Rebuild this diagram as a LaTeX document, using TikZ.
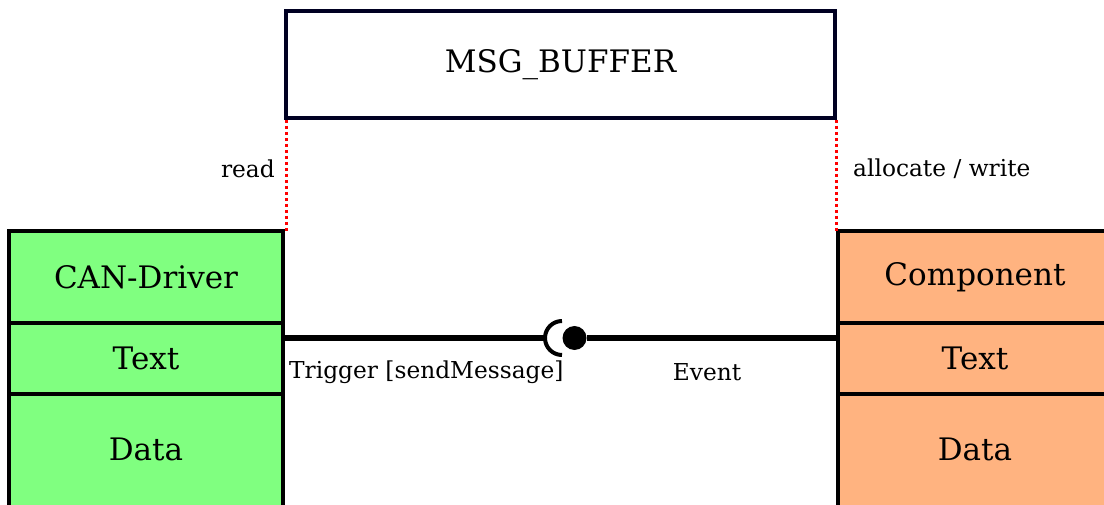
\documentclass[tikz,border=0pt]{standalone}
\usepackage{fontspec}
\setmainfont{DejaVu Serif}
\definecolor{drvgreen}{HTML}{80FF80}
\definecolor{comporange}{HTML}{FFB380}
\definecolor{bufnavy}{HTML}{000022}
\begin{document}
\begin{tikzpicture}[x=1pt,y=-1pt,
  part/.style={draw=black, line width=3.2pt, outer sep=0pt, minimum width=274pt, inner sep=0pt,
    font=\fontsize{31}{37}\selectfont},
  bigtext/.style={inner sep=0pt, font=\fontsize{31}{37}\selectfont},
  lbl/.style={inner sep=0pt, font=\fontsize{23.3}{28}\selectfont},
  usage/.style={draw=red, line width=3.4pt, dash pattern=on 3.5pt off 2.5pt},
  wire/.style={line width=5.5pt}]
\useasboundingbox (0,0) rectangle (1104,505);
\clip (0,0) rectangle (1104,505);

% message buffer
\node[draw=bufnavy, line width=3.6pt, outer sep=0pt, minimum width=549pt, minimum height=107pt,
  inner sep=0pt, font=\fontsize{31}{37}\selectfont] (buf) at (560.5,64.5) {MSG\_BUFFER};

% CAN driver class box
\node[part, fill=drvgreen, minimum height=92pt] (dname) at (146,277) {CAN-Driver};
\node[part, fill=drvgreen, minimum height=71pt, anchor=north] (dtext) at (dname.south) {Text};
\node[part, fill=drvgreen, minimum height=130pt, anchor=north] (ddata) at (dtext.south) {};
\node[bigtext] (ddatatxt) at (146,449) {Data};

% component class box
\node[part, fill=comporange, minimum height=92pt] (cname) at (975,277) {Component};
\node[part, fill=comporange, minimum height=71pt, anchor=north] (ctext) at (cname.south) {Text};
\node[part, fill=comporange, minimum height=130pt, anchor=north] (cdata) at (ctext.south) {};
\node[bigtext] (cdatatxt) at (975,449) {Data};

% buffer usage
\draw[usage] ([xshift=0.5pt,yshift=-2pt]buf.south west) -- ([xshift=0.5pt]buf.south west |- dname.north);
\draw[usage] ([xshift=1.5pt,yshift=-2pt]buf.south east) -- ([xshift=1.5pt]buf.south east |- cname.north);
\node[lbl, anchor=east] (readlbl) at (275,169) {read};
\node[lbl, anchor=west] (writelbl) at (853,169) {allocate / write};

% trigger / event interface (ball and socket)
\coordinate (sock) at (545,338);
\node[circle, fill=black, minimum size=24pt, inner sep=0pt] (ball) at (574.5,338) {};
\draw[wire] (dtext.east |- sock) -- (sock);
\draw[line width=4pt] (562,338) ++(90:17) arc (90:270:17);
\draw[wire] (ball) -- (cname.west |- ball);
\node[lbl, anchor=west] (trig) at (289,372) {Trigger [sendMessage]};
\node[lbl] (evt) at (707,372) {Event};
\end{tikzpicture}
\end{document}
